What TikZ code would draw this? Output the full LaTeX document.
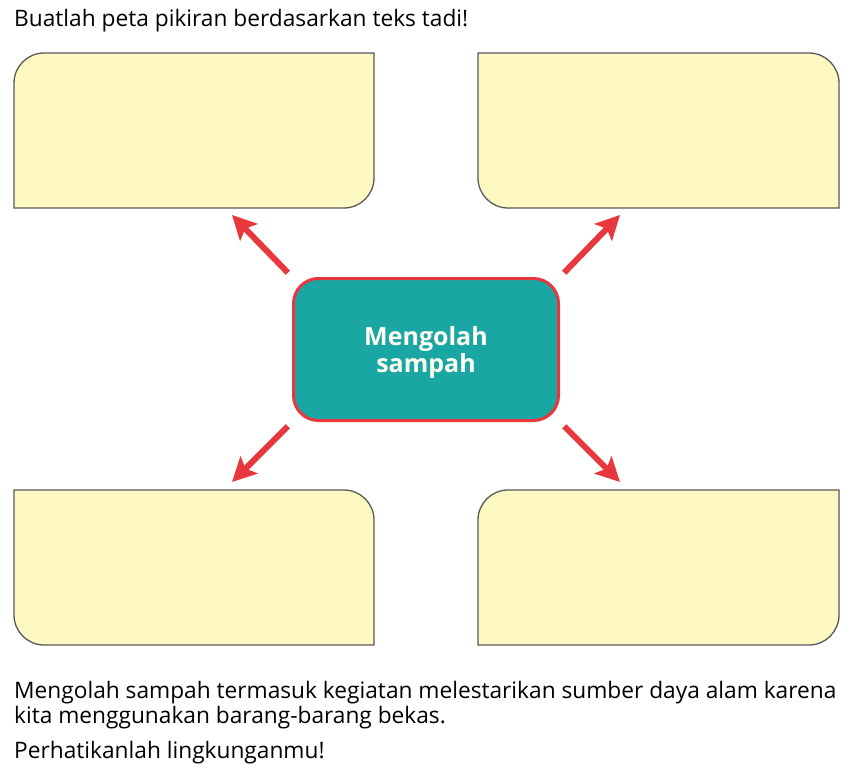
\documentclass[tikz,border=0pt]{standalone}
\usepackage{fontspec}
\setmainfont{Open Sans}
\usetikzlibrary{arrows.meta}
\definecolor{memoyellow}{HTML}{FEF8C2}
\definecolor{hubteal}{HTML}{1AA6A3}
\definecolor{hubred}{HTML}{E8383D}

\begin{document}
\begin{tikzpicture}
    \tikzset{x=1pt, y=-1pt}
    \tikzstyle{memo}=[draw=black!65, line width=1.3pt, fill=memoyellow]
    \tikzstyle{hub}=[rectangle, rounded corners=25pt, draw=hubred, line width=3pt, fill=hubteal,
                     minimum width=265pt, minimum height=142pt, align=center, text=white!95!yellow,
                     text depth=0pt, font=\fontsize{25}{27}\selectfont\bfseries]
    \tikzstyle{spoke}=[draw=hubred, line width=6pt, shorten <=6pt,
                       -{Stealth[length=24pt, width=24pt, inset=5pt]}]
    \tikzstyle{prose}=[anchor=base west, inner sep=0pt, align=left,
                       font=\fontsize{22.7}{25}\selectfont]

    \fill[white] (0,0) rectangle (866,770);
    \useasboundingbox (0,0) rectangle (866,770);

    \draw (14, 27)      node[prose] (title)  {Buatlah peta pikiran berdasarkan teks tadi!};

    \draw[memo] (14,83) .. controls (14,66.5) and (27.5,53) .. (44,53) -- (374,53) -- (374,178)
                .. controls (374,194.5) and (360.5,208) .. (344,208) -- (14,208) -- cycle;
    \draw[memo] (478,53) -- (809,53) .. controls (825.5,53) and (839,66.5) .. (839,83) -- (839,208)
                -- (508,208) .. controls (491.5,208) and (478,194.5) .. (478,178) -- cycle;
    \draw[memo] (14,490) -- (344,490) .. controls (360.5,490) and (374,503.5) .. (374,520) -- (374,645)
                -- (44,645) .. controls (27.5,645) and (14,631.5) .. (14,615) -- cycle;
    \draw[memo] (478,520) .. controls (478,503.5) and (491.5,490) .. (508,490) -- (839,490) -- (839,615)
                .. controls (839,631.5) and (825.5,645) .. (809,645) -- (478,645) -- cycle;

    \draw (426, 349.5)  node[hub]   (hub)   {Mengolah\\sampah};

    \coordinate (tipnw) at (232, 215);
    \coordinate (tipne) at (620, 215);
    \coordinate (tipsw) at (232, 482);
    \coordinate (tipse) at (620, 482);

    \draw[spoke] (hub.north west) -- (tipnw);
    \draw[spoke] (hub.north east) -- (tipne);
    \draw[spoke] (hub.south west) -- (tipsw);
    \draw[spoke] (hub.south east) -- (tipse);

    \draw (14, 723)     node[prose] (note)   {Mengolah sampah termasuk kegiatan melestarikan sumber daya alam karena\\kita menggunakan barang-barang bekas.};
    \draw (14, 758)     node[prose] (ask)    {Perhatikanlah lingkunganmu!};
\end{tikzpicture}
\end{document}
